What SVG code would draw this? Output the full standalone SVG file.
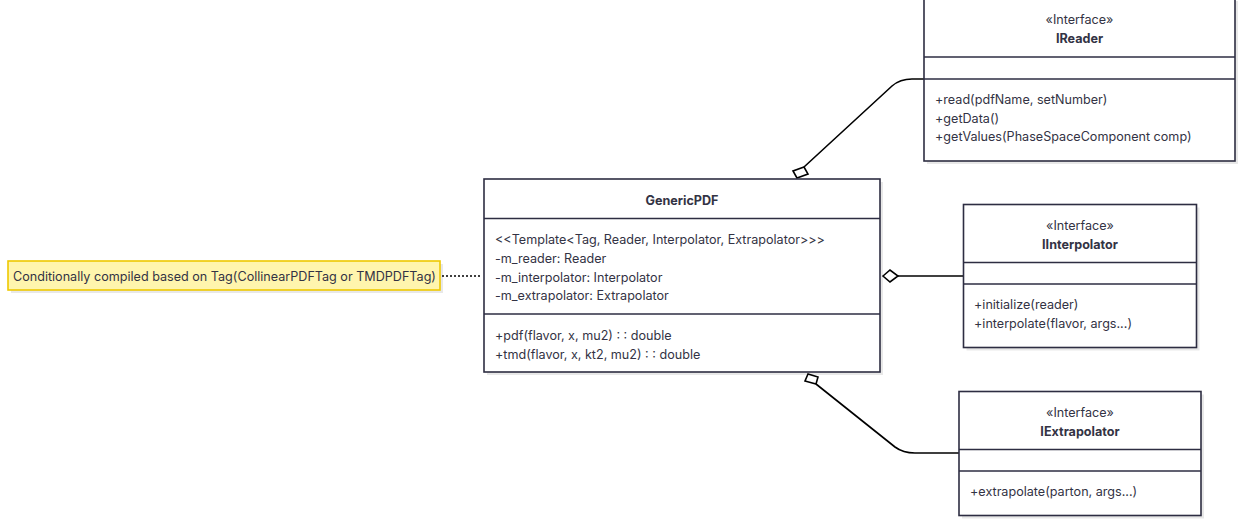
<svg xmlns="http://www.w3.org/2000/svg" width="1238" height="519" viewBox="0 0 1238 519">
<style>
.box{fill:#ffffff;stroke:#2d2d42;stroke-width:1.6}
.sh{fill:#000;opacity:0.09}
.div{stroke:#2d2d42;stroke-width:1.6}
.t{font-family:Inter,"Noto Sans","Liberation Sans",sans-serif;font-size:12.6px;fill:#333344;dominant-baseline:central}
.c{text-anchor:middle}
.b{font-weight:bold}
.edge{fill:none;stroke:#000;stroke-width:1.6}
.dia{fill:#fff;stroke:#000;stroke-width:1.6}
.note{fill:#fff5ad;stroke:#eec900;stroke-width:1.6}
</style>
<rect width="1238" height="519" fill="#ffffff"/>
<g id="connectors">
<path class="edge" d="M924,79 L912,79 Q900,79 892,86 L804,167"/>
<polygon class="dia" points="797,178 793,171 804,167 808,174" transform="rotate(0)"/>
<path class="edge" d="M963,276 L898,276"/>
<polygon class="dia" points="883,276 890,270 898,276 890,282"/>
<path class="edge" d="M959,453 L915,453 Q903,453 895,447 L816,384"/>
<polygon class="dia" points="808,374 805,381 816,384 818,377"/>
<path d="M442,276 L481,276" fill="none" stroke="#000" stroke-width="1.3" stroke-dasharray="2,2"/>
</g>
<g id="note">
<rect class="sh" x="11" y="264" width="432" height="29"/>
<rect class="note" x="8" y="261" width="432" height="29"/>
<text class="t" x="13" y="276">Conditionally compiled based on Tag(CollinearPDFTag or TMDPDFTag)</text>
</g>
<g id="GenericPDF">
<rect class="sh" x="487" y="182" width="396" height="193"/>
<rect class="box" x="484" y="179" width="396" height="193"/>
<line class="div" x1="484" y1="218.5" x2="880" y2="218.5"/>
<line class="div" x1="484" y1="314" x2="880" y2="314"/>
<text class="t c b" x="682" y="200.5">GenericPDF</text>
<text class="t" x="495" y="239">&lt;&lt;Template&lt;Tag, Reader, Interpolator, Extrapolator&gt;&gt;&gt;</text>
<text class="t" x="495" y="258">-m_reader: Reader</text>
<text class="t" x="495" y="277">-m_interpolator: Interpolator</text>
<text class="t" x="495" y="295.5">-m_extrapolator: Extrapolator</text>
<text class="t" x="495" y="335">+pdf(flavor, x, mu2) : : double</text>
<text class="t" x="495" y="354">+tmd(flavor, x, kt2, mu2) : : double</text>
</g>
<g id="IReader">
<rect class="sh" x="927" y="1" width="311" height="163"/>
<rect class="box" x="924" y="-2" width="311" height="163"/>
<line class="div" x1="924" y1="57" x2="1235" y2="57"/>
<line class="div" x1="924" y1="79" x2="1235" y2="79"/>
<text class="t c" x="1079.5" y="19.5">«Interface»</text>
<text class="t c b" x="1079.5" y="38.5">IReader</text>
<text class="t" x="935" y="99.5">+read(pdfName, setNumber)</text>
<text class="t" x="935" y="118">+getData()</text>
<text class="t" x="935" y="136.5">+getValues(PhaseSpaceComponent comp)</text>
</g>
<g id="IInterpolator">
<rect class="sh" x="966.5" y="207.5" width="233" height="143"/>
<rect class="box" x="963.5" y="204.5" width="233" height="143"/>
<line class="div" x1="963.5" y1="262.5" x2="1196.5" y2="262.5"/>
<line class="div" x1="963.5" y1="284" x2="1196.5" y2="284"/>
<text class="t c" x="1080" y="225.5">«Interface»</text>
<text class="t c b" x="1080" y="244">IInterpolator</text>
<text class="t" x="974" y="304">+initialize(reader)</text>
<text class="t" x="974" y="323">+interpolate(flavor, args...)</text>
</g>
<g id="IExtrapolator">
<rect class="sh" x="962" y="394.5" width="242" height="124"/>
<rect class="box" x="959" y="391.5" width="242" height="124"/>
<line class="div" x1="959" y1="449.5" x2="1201" y2="449.5"/>
<line class="div" x1="959" y1="471" x2="1201" y2="471"/>
<text class="t c" x="1080" y="412">«Interface»</text>
<text class="t c b" x="1080" y="431">IExtrapolator</text>
<text class="t" x="970" y="491.5">+extrapolate(parton, args...)</text>
</g>
</svg>
